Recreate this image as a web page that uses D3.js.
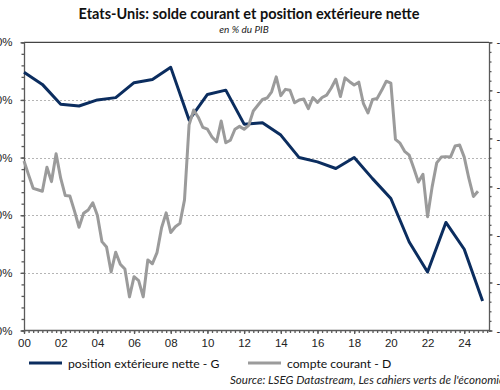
<!DOCTYPE html>
<html lang="fr">
<head>
<meta charset="UTF-8">
<title>Etats-Unis: solde courant et position extérieure nette</title>
<script src="https://cdnjs.cloudflare.com/ajax/libs/d3/7.8.5/d3.min.js"></script>
<style>
  body { margin: 0; background: #fff; }
  svg { display: block; font-family: Lato, "Open Sans", sans-serif; }
  .grid line { stroke: #b5b5b5; stroke-width: 1; stroke-dasharray: 2,2; }
  .axis path, .axis line { stroke: #5a5a5a; stroke-width: 1.3; }
  .axis text { fill: #222; font-size: 11.5px; }
</style>
</head>
<body>
<svg width="500" height="390"></svg>
<script>
// position extérieure nette, % du PIB (axe gauche), annuel 2000-2025
var niipYears = d3.range(2000, 2026);
var niip = [-10.4, -14.6, -21.5, -22.1, -20.0, -19.2, -14.0, -12.9, -8.7, -27.0,
            -18.1, -16.6, -28.4, -27.9, -32.2, -40.0, -41.5, -43.8, -40.0, -47.3,
            -54.2, -69.3, -79.7, -62.5, -71.8, -89.8];

// compte courant, % du PIB (axe droit), trimestriel 2000T1-2024T4
var caStart = 2000;
var ca = [-3.47, -3.76, -4.04, -4.07, -4.10, -3.60, -3.90, -3.32, -3.83, -4.19,
          -4.20, -4.51, -4.85, -4.56, -4.49, -4.34, -4.60, -5.15, -5.26, -5.78,
          -5.37, -5.62, -5.72, -6.30, -5.88, -5.96, -6.30, -5.53, -5.61, -5.38,
          -4.86, -4.55, -4.96, -4.84, -4.77, -4.28, -2.72, -2.41, -2.56, -2.77,
          -2.81, -2.97, -3.07, -2.64, -3.09, -3.04, -2.81, -2.75, -2.81, -2.73,
          -2.43, -2.31, -2.19, -2.16, -2.03, -1.72, -2.11, -1.98, -2.00, -2.26,
          -2.20, -2.18, -2.38, -2.15, -2.25, -2.15, -2.10, -1.95, -1.77, -2.13,
          -1.74, -1.82, -1.89, -1.83, -2.27, -2.47, -2.19, -2.17, -2.00, -1.81,
          -1.85, -3.02, -3.10, -3.27, -3.35, -3.62, -3.91, -3.75, -4.63, -4.01,
          -3.51, -3.39, -3.38, -3.39, -3.16, -3.14, -3.39, -3.83, -4.21, -4.10];

var leftTicks = [0, -20, -40, -60, -80, -100];
var rightTicks = [-1, -2, -3, -4, -5, -6, -7];
var yearLabels = d3.range(2000, 2025, 2);

var svg = d3.select("svg");
var x0 = 24, x1 = 489, yTop = 42.3, yBot = 330.5;

var x = d3.scaleLinear().domain([2000, 2025.35]).range([x0, x1]);
var yL = d3.scaleLinear().domain([-100, 0]).range([yBot, yTop]);
var yR = d3.scaleLinear().domain([-7, -1]).range([yBot, yTop]);

// titres
svg.append("text")
  .attr("x", 249).attr("y", 18.5)
  .attr("text-anchor", "middle")
  .style("font-size", "14.5px").style("font-weight", "bold").style("fill", "#111")
  .text("Etats-Unis: solde courant et position extérieure nette");
svg.append("text")
  .attr("x", 244).attr("y", 33)
  .attr("text-anchor", "middle")
  .style("font-size", "10px").style("font-style", "italic").style("fill", "#222")
  .text("en % du PIB");

// grille
svg.append("g").attr("class", "grid")
  .selectAll("line")
  .data(leftTicks.slice(1, -1))
  .join("line")
  .attr("x1", x0).attr("x2", x1)
  .attr("y1", d => Math.round(yL(d)) + 0.5)
  .attr("y2", d => Math.round(yL(d)) + 0.5);

// cadre haut
svg.append("line")
  .attr("x1", x0).attr("x2", x1).attr("y1", yTop).attr("y2", yTop)
  .attr("stroke", "#444").attr("stroke-width", 1.3);

// axe gauche (étiquettes coupées au bord comme dans l'original)
svg.append("g").attr("class", "axis")
  .attr("transform", "translate(" + x0 + ",0)")
  .call(d3.axisLeft(yL).tickValues(d3.range(0, -101, -4)).tickSize(2.5).tickFormat(""));
svg.append("g").attr("class", "axis")
  .attr("transform", "translate(" + x0 + ",0)")
  .call(d3.axisLeft(yL).tickValues(leftTicks).tickSize(3.5).tickPadding(8).tickFormat(d => d + "%"))
  .call(g => g.select(".domain").remove());

// axe droit
svg.append("g").attr("class", "axis")
  .attr("transform", "translate(" + x1 + ",0)")
  .call(d3.axisRight(yR).tickValues(d3.range(-1, -7.01, -0.2)).tickSize(2.5).tickFormat(""));
svg.append("g").attr("class", "axis")
  .attr("transform", "translate(" + x1 + ",0)")
  .call(d3.axisRight(yR).tickValues(rightTicks).tickSize(3.5).tickPadding(4).tickFormat(d => d + "%"))
  .call(g => g.select(".domain").remove());

// axe bas
svg.append("g").attr("class", "axis")
  .attr("transform", "translate(0," + yBot + ")")
  .call(d3.axisBottom(x).tickValues(d3.range(2000, 2025.3, 0.25)).tickSize(2.5).tickFormat(""))
  .call(g => g.select(".domain").attr("d", "M" + x0 + ",0H" + x1));
svg.append("g").attr("class", "axis")
  .attr("transform", "translate(0," + yBot + ")")
  .call(d3.axisBottom(x).tickValues(yearLabels).tickSize(3.5).tickPadding(5)
    .tickFormat(d => String(d).slice(2)))
  .call(g => g.select(".domain").remove());

// séries
var lineCA = d3.line()
  .x((d, i) => x(caStart + i / 4))
  .y(d => yR(d));
var lineNIIP = d3.line()
  .x((d, i) => x(niipYears[i]))
  .y(d => yL(d));

svg.append("path").datum(niip)
  .attr("d", lineNIIP)
  .attr("fill", "none").attr("stroke", "#0b2d5f").attr("stroke-width", 3)
  .attr("stroke-linejoin", "round");
svg.append("path").datum(ca)
  .attr("d", lineCA)
  .attr("fill", "none").attr("stroke", "#9b9b9b").attr("stroke-width", 3)
  .attr("stroke-linejoin", "round");

// légende
var legend = [
  { label: "position extérieure nette - G", color: "#0b2d5f", x: 29 },
  { label: "compte courant - D", color: "#9b9b9b", x: 248 }
];
var lg = svg.append("g").selectAll("g").data(legend).join("g")
  .attr("transform", d => "translate(" + d.x + ",363)");
lg.append("line").attr("x1", 0).attr("x2", 33).attr("y1", 0).attr("y2", 0)
  .attr("stroke", d => d.color).attr("stroke-width", 3);
lg.append("text").attr("x", 39).attr("y", 4.5)
  .style("font-size", "12.2px").style("fill", "#111")
  .text(d => d.label);

// source
svg.append("text")
  .attr("x", 230).attr("y", 384)
  .style("font-size", "11.6px").style("font-style", "italic").style("fill", "#222")
  .text("Source: LSEG Datastream, Les cahiers verts de l'économie");
</script>
</body>
</html>
